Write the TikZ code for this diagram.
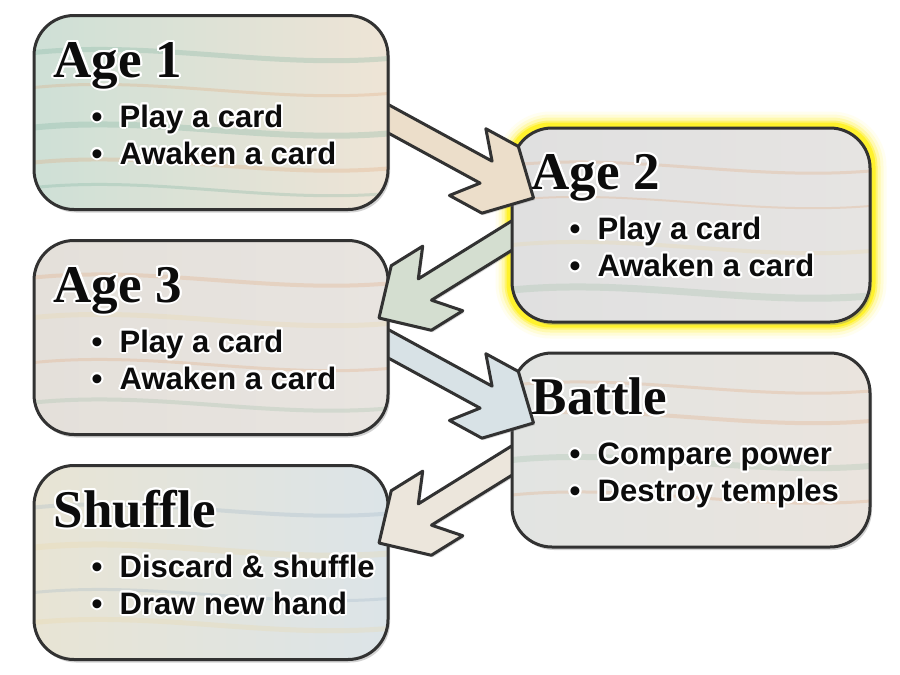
\documentclass[tikz,border=0pt]{standalone}
\usepackage{fontspec}
\setmainfont{Liberation Sans}
\newfontfamily\titlefont{Liberation Serif}
\usepackage{contour}
\usepackage{tikz}
\usetikzlibrary{calc,shadows}

\contourlength{2pt}
\contournumber{24}

\definecolor{cardline}{RGB}{50,50,50}
\definecolor{cardtext}{RGB}{12,12,12}
\definecolor{glowyellow}{RGB}{255,240,0}
\definecolor{marbleteal}{RGB}{110,170,150}
\definecolor{marbleorange}{RGB}{225,160,110}
\definecolor{marblegreen}{RGB}{150,185,160}
\definecolor{marbleblue}{RGB}{150,175,195}
\definecolor{marblecream}{RGB}{235,215,160}
\definecolor{arrowwood}{RGB}{236,222,202}
\definecolor{arrowsage}{RGB}{212,222,208}
\definecolor{arrowmist}{RGB}{216,226,230}
\definecolor{arrowcream}{RGB}{236,230,220}

\pgfdeclarelayer{background}
\pgfsetlayers{background,main}

\tikzstyle{card} = [rectangle, draw=cardline, line width=3pt, rounded corners=40pt, minimum height=194pt, drop shadow={shadow xshift=2pt, shadow yshift=-3pt, opacity=0.35}]
\tikzstyle{cardtitle} = [inner sep=0pt, anchor=base west, text=cardtext, font=\titlefont\bfseries\fontsize{53}{60}\selectfont]
\tikzstyle{carditem} = [inner sep=0pt, anchor=base west, text=cardtext, font=\bfseries\fontsize{31}{37}\selectfont]
\tikzstyle{flow} = [draw=cardline, line width=3pt, line join=round, drop shadow={shadow xshift=1.5pt, shadow yshift=-2pt, opacity=0.3}]

\newcommand{\itembullet}{\makebox[28pt][l]{\textbullet}}

% card: name, centre, width, title, item, item, fill, streaks
\newcommand{\card}[8]{%
  \node[card, minimum width=#3, #7, path picture={
      \foreach \dy/\sc/\sw in {#8}
        \draw[\sc, line width=\sw pt, opacity=0.25]
          ($(path picture bounding box.west)+(0,\dy)$) .. controls +(120,-12) and +(-120,10) .. ($(path picture bounding box.east)+(0,\dy+6)$);
    }] (#1) at (#2) {};
  \node[cardtitle] (#1-title) at ($(#1.north west)+(21,63)$) {\contour{white}{#4}};
  \node[carditem] (#1-a) at ($(#1.north west)+(59,113)$) {\contour{white}{\itembullet#5}};
  \node[carditem] (#1-b) at ($(#1.north west)+(59,150)$) {\contour{white}{\itembullet#6}};
}

% block arrow from tail (#1) to tip (#2)
\newcommand{\flowarrow}[3]{%
  \coordinate (neck) at ($(#2)!54pt!(#1)$);
  \coordinate (barb) at ($(#2)!75pt!(#1)$);
  \coordinate (shoulder) at ($(#2)!38pt!(#1)$);
  \draw[flow, fill=#3] ($(#1)!12.5pt!90:(#2)$) -- ($(neck)!12.5pt!90:(#2)$)
    -- ($(barb)!38pt!90:(#2)$) -- ($(shoulder)!38pt!90:(#2)$) -- (#2)
    -- ($(shoulder)!38pt!-90:(#2)$) -- ($(barb)!38pt!-90:(#2)$)
    -- ($(neck)!12.5pt!-90:(#2)$) -- ($(#1)!12.5pt!-90:(#2)$) -- cycle;
}

\begin{document}
\begin{tikzpicture}[x=1pt, y=-1pt]
\useasboundingbox (0,0) rectangle (900,675);

% arrow ends
\coordinate (age1-out) at (374,111);
\coordinate (age2-in) at (533.5,198);
\coordinate (age2-out) at (520,230.5);
\coordinate (age3-in) at (379,318);
\coordinate (age3-out) at (374,336);
\coordinate (battle-in) at (533.5,423);
\coordinate (battle-out) at (520,455.5);
\coordinate (shuffle-in) at (379,543);

% drawn bottom-up so each arrow sits under its source card
\card{shuffle}{211,562.5}{354pt}{Shuffle}{Discard \& shuffle}{Draw new hand}
  {left color={rgb,255:red,232;green,228;blue,212}, right color={rgb,255:red,220;green,228;blue,232}}
  {-55/marbleblue/4, -15/marblecream/6, 30/marbleblue/3, 60/marblecream/5}
\flowarrow{battle-out}{shuffle-in}{arrowcream}

\card{battle}{691,450}{358pt}{Battle}{Compare power}{Destroy temples}
  {left color={rgb,255:red,226;green,228;blue,226}, right color={rgb,255:red,234;green,228;blue,222}}
  {-65/marbleorange/3, -35/marbleorange/4, 10/marblegreen/6, 45/marbleorange/3}
\flowarrow{age3-out}{battle-in}{arrowmist}

\card{age3}{211,337.5}{354pt}{Age 3}{Play a card}{Awaken a card}
  {left color={rgb,255:red,228;green,224;blue,218}, right color={rgb,255:red,232;green,228;blue,224}}
  {-60/marbleorange/4, -20/marblecream/5, 25/marbleorange/3, 65/marblegreen/4}
\flowarrow{age2-out}{age3-in}{arrowsage}

\card{age2}{691,225}{358pt}{Age 2}{Play a card}{Awaken a card}
  {left color={rgb,255:red,224;green,224;blue,224}, right color={rgb,255:red,230;green,228;blue,226}}
  {-60/marbleorange/3, -25/marbleorange/2, 20/marblecream/4, 65/marblegreen/7}
\flowarrow{age1-out}{age2-in}{arrowwood}

\card{age1}{211,112.5}{354pt}{Age 1}{Play a card}{Awaken a card}
  {left color={rgb,255:red,206;green,224;blue,214}, right color={rgb,255:red,238;green,228;blue,214}}
  {-60/marbleteal/5, -25/marbleorange/3, 15/marbleteal/6, 50/marbleorange/4, 75/marbleteal/3}

% white page and the glow round the current age
\begin{pgfonlayer}{background}
  \fill[white] (0,0) rectangle (900,675);
  \foreach \w/\o in {30/0.06, 24/0.1, 18/0.18, 12/0.35, 8/0.6}
    \draw[glowyellow, line width=\w pt, opacity=\o, rounded corners=40pt]
      (age2.south west) rectangle (age2.north east);
\end{pgfonlayer}
\end{tikzpicture}
\end{document}
